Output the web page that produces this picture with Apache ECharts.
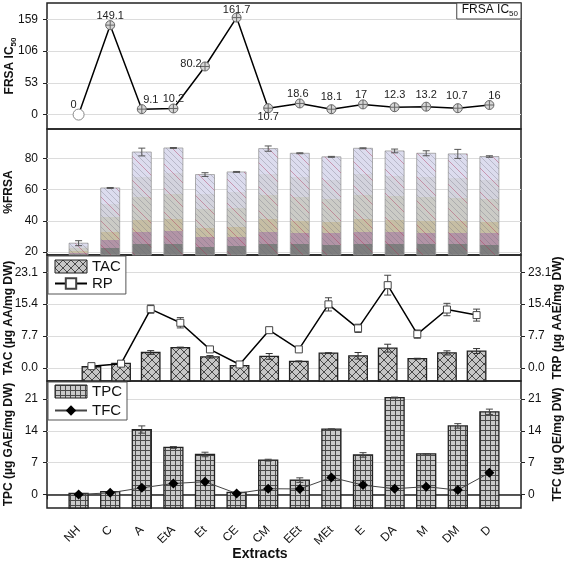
<!DOCTYPE html>
<html><head><meta charset="utf-8">
<script src="https://cdn.jsdelivr.net/npm/echarts@6/dist/echarts.min.js"></script>
<style>html,body{margin:0;padding:0;background:#fff}#c{width:567px;height:562px}</style>
</head><body><div id="c"></div>
<script>
// ---------------- data ----------------
const categories = ['NH','C','A','EtA','Et','CE','CM','EEt','MEt','E','DA','M','DM','D'];
const ic50Values = [0,149.1,9.1,10.2,80.2,161.7,10.7,18.6,9.0,17,12.3,13.2,10.7,16];
const ic50Labels = ['0','149.1','9.1','10.2','80.2','161.7','10.7','18.6','18.1','17','12.3','13.2','10.7','16'];
const frsaValues = [25.6,61.1,84.2,86.8,69.7,71.4,86.4,83.4,81.1,86.6,84.9,83.4,83.0,81.3];
const frsaErrors = [1.6,0.3,2.5,0.3,1.2,0.3,1.7,0.3,0.3,0.3,1.2,1.6,2.9,0.5];
const tacValues = [0.25,1.05,3.7,4.9,2.65,0.5,2.75,1.55,3.55,2.9,4.75,2.2,3.6,4.05];
const tacErrors = [0.1,0.1,0.45,0.1,0.3,0.1,0.7,0.1,0.1,0.8,0.95,0.1,0.5,0.6];
const rpValues = [0.4,1.0,14.2,10.9,4.45,0.8,9.1,4.45,15.35,9.55,20.0,8.15,14.1,12.75];
const rpErrors = [0.3,0.4,1.0,1.25,0.4,0.3,0.5,0.2,1.6,1.0,2.4,1.0,1.5,1.45];
const tpcValues = [0.2,0.6,14.3,10.35,8.8,0.45,7.55,3.15,14.4,8.7,21.35,8.95,15.1,18.2];
const tpcErrors = [0.05,0.05,0.8,0.2,0.5,0.05,0.2,0.5,0.05,0.5,0.1,0.05,0.5,0.6];
const tfcValues = [0.0,0.35,1.45,2.4,2.8,0.2,1.25,1.2,3.75,2.05,1.25,1.7,0.95,4.75];
const ic50Ticks = [0,53,106,159];
const frsaTicks = [20,40,60,80];
const tacTicks = [0,7.7,15.4,23.1];
const tpcTicks = [0,7,14,21];

// ---------------- styles ----------------
const FONT = '"Liberation Sans", Arial, Helvetica, sans-serif';
const axisCats = [''].concat(categories, [' ']);

function makePattern(size, bg, draw) {
  const c = document.createElement('canvas');
  c.width = size; c.height = size;
  const g = c.getContext('2d');
  if (bg) { g.fillStyle = bg; g.fillRect(0, 0, size, size); }
  draw(g, size);
  return { image: c, repeat: 'repeat' };
}
const crossPat = makePattern(8, '#c6c6c6', (g, s) => {
  g.strokeStyle = '#3a3a3a'; g.lineWidth = 0.9; g.beginPath();
  for (let k = -1; k <= 1; k++) {
    g.moveTo(k * s, 0); g.lineTo(k * s + s, s);
    g.moveTo(k * s, s); g.lineTo(k * s + s, 0);
  }
  g.stroke();
});
const gridPat = makePattern(5, '#c9c9c9', (g, s) => {
  g.fillStyle = '#4a4a4a'; g.fillRect(0, 0, s, 1); g.fillRect(0, 0, 1, s);
});
const hatchPat = makePattern(24, null, (g, s) => {
  g.lineWidth = 0.7;
  [0, 6, 12, 18].forEach((o, j) => {
    g.strokeStyle = j === 0 ? 'rgba(170,50,90,0.6)' : 'rgba(105,105,120,0.45)';
    g.beginPath();
    for (let k = -1; k <= 1; k++) { g.moveTo(o + k * s, 0); g.lineTo(o + k * s + s, s); }
    g.stroke();
  });
});
const frsaGradient = {
  type: 'linear', x: 0, y: 1, x2: 0, y2: 0,
  colorStops: [
    {offset: 0, color: '#7e7e7e'}, {offset: 0.107, color: '#7e7e7e'},
    {offset: 0.107, color: '#b294a6'}, {offset: 0.222, color: '#b294a6'},
    {offset: 0.222, color: '#c6bea4'}, {offset: 0.34, color: '#c6bea4'},
    {offset: 0.34, color: '#cbcbc6'}, {offset: 0.566, color: '#cbcbc6'},
    {offset: 0.566, color: '#d3d3dd'}, {offset: 0.76, color: '#d3d3dd'},
    {offset: 0.76, color: '#dcdcee'}, {offset: 1, color: '#dcdcee'}
  ]
};
const crossCircle = 'path://M10,0A10,10,0,1,1,10,20A10,10,0,1,1,10,0ZM10,0L10,20M0,10L20,10';

function barRender(width, fill, stroke, strokeW, overlay) {
  return function (params, api) {
    const x = api.value(0), v = api.value(1);
    const top = api.coord([x, v]);
    const cs = params.coordSys;
    const bottom = cs.y + cs.height;
    const shape = {x: top[0] - width / 2, y: top[1], width: width, height: bottom - top[1]};
    const children = [{type: 'rect', shape: shape, style: {fill: fill, stroke: stroke, lineWidth: strokeW}}];
    if (overlay) children.push({type: 'rect', shape: shape, style: {fill: overlay, stroke: null}});
    return {type: 'group', children: children};
  };
}
function errRender(color, capW) {
  return function (params, api) {
    const x = api.value(0), v = api.value(1), e = api.value(2);
    const hi = api.coord([x, v + e]), lo = api.coord([x, v - e]);
    const st = {stroke: color, lineWidth: 1};
    return {type: 'group', children: [
      {type: 'line', shape: {x1: hi[0], y1: hi[1], x2: lo[0], y2: lo[1]}, style: st},
      {type: 'line', shape: {x1: hi[0] - capW, y1: hi[1], x2: hi[0] + capW, y2: hi[1]}, style: st},
      {type: 'line', shape: {x1: lo[0] - capW, y1: lo[1], x2: lo[0] + capW, y2: lo[1]}, style: st}
    ]};
  };
}
function pairs(vals, errs) {
  return categories.map((c, i) => errs ? [c, vals[i], errs[i]] : [c, vals[i]]);
}

const gridBase = {left: 47, right: 46, show: true, borderColor: '#222', borderWidth: 1.5,
  backgroundColor: 'transparent', containLabel: false, outerBoundsMode: 'none'};
const grids = [
  Object.assign({top: 3, height: 126}, gridBase),
  Object.assign({top: 129, height: 126}, gridBase),
  Object.assign({top: 255, height: 126}, gridBase),
  Object.assign({top: 381, height: 127}, gridBase)
];

function xAx(gi, bottomAxis, onBand) {
  return {
    type: 'category', gridIndex: gi, data: axisCats, boundaryGap: onBand,
    axisLine: {show: bottomAxis, lineStyle: {color: '#222', width: 1.5}},
    axisTick: {show: bottomAxis, length: 5, inside: false, interval: 0, alignWithLabel: true, lineStyle: {color: '#222', width: 1}},
    axisLabel: {show: bottomAxis, rotate: 45, interval: 0, margin: 20, fontSize: 12, color: '#111', fontFamily: FONT},
    splitLine: {show: false},
    name: bottomAxis ? 'Extracts' : '', nameLocation: 'middle', nameGap: 39, nameMoveOverlap: false,
    nameTextStyle: {fontSize: 14, fontWeight: 'bold', color: '#111', fontFamily: FONT, padding: [0, 48, 0, 0]}
  };
}
function yAx(gi, min, max, ticks, pos, name, nameGap, fmt, rich) {
  const left = pos === 'left';
  return {
    type: 'value', gridIndex: gi, position: pos, min: min, max: max,
    axisLine: {show: false},
    axisTick: {show: true, length: 4, inside: false, customValues: ticks, lineStyle: {color: '#222'}},
    axisLabel: {show: true, customValues: ticks, fontSize: 12, color: '#111', fontFamily: FONT, margin: left ? 9 : 7,
      formatter: fmt || (v => String(v))},
    splitLine: {show: left, lineStyle: {color: '#dcdcdc', width: 1}},
    name: name, nameLocation: 'middle', nameGap: nameGap, nameRotate: 90, nameMoveOverlap: false,
    nameTextStyle: {fontSize: 12, fontWeight: 'bold', color: '#111', fontFamily: FONT, rich: rich}
  };
}
const subRich = {
  a: {fontSize: 12, fontWeight: 'bold', color: '#111', fontFamily: FONT},
  s: {fontSize: 8, fontWeight: 'bold', color: '#111', fontFamily: FONT, padding: [9, 0, 0, 0]}
};
const ic50LabelOffsets = [[-5,-10],[0,-9],[9,-9],[0,-10],[-14,-3],[0,-8],[0,9],[-2,-9],[0,-12],[-2,-9],[0,-12],[0,-12],[-1,-12],[5,-9]];
const fmt1 = v => v.toFixed(1);

const option = {
  animation: false,
  backgroundColor: '#fff',
  textStyle: {fontFamily: FONT},
  grid: grids,
  xAxis: [xAx(0, false, false), xAx(1, false, false), xAx(2, false, true), xAx(3, true, false)],
  yAxis: [
    yAx(0, -24, 186, ic50Ticks, 'left', '{a|FRSA IC}{s|50}', 29, null, subRich),
    yAx(1, 18, 99, frsaTicks, 'left', '%FRSA', 32),
    yAx(2, -3.2, 27.3, tacTicks, 'left', 'TAC (µg AA/mg DW)', 32, fmt1),
    yAx(2, -3.2, 27.3, tacTicks, 'right', 'TRP (µg AAE/mg DW)', 31, fmt1),
    yAx(3, -3, 25, tpcTicks, 'left', 'TPC (µg GAE/mg DW)', 32),
    yAx(3, -3, 25, tpcTicks, 'right', 'TFC (µg QE/mg DW)', 31)
  ],
  legend: [
    {data: ['FRSA IC50'], right: 46, top: 3, orient: 'vertical', icon: 'none', itemWidth: 0, itemHeight: 0,
      padding: [1, 3, 1, 0], borderColor: '#444', borderWidth: 1, backgroundColor: '#fff',
      formatter: () => '{a|FRSA IC}{s|50}',
      textStyle: {rich: {
        a: {fontSize: 12, color: '#111', fontFamily: FONT},
        s: {fontSize: 8, color: '#111', fontFamily: FONT, padding: [8, 0, 0, 0]}}}},
    {data: [{name: 'TAC', icon: 'rect', itemStyle: {color: crossPat, borderColor: '#222', borderWidth: 1}}, {name: 'RP'}],
      left: 48, top: 256, orient: 'vertical', itemWidth: 32, itemHeight: 13, itemGap: 2,
      padding: [3, 5, 3, 6], borderColor: '#555', borderWidth: 1, backgroundColor: '#fff',
      textStyle: {fontSize: 15, color: '#111', fontFamily: FONT}},
    {data: [{name: 'TPC', icon: 'rect', itemStyle: {color: gridPat, borderColor: '#222', borderWidth: 1}}, {name: 'TFC'}],
      left: 48, top: 382, orient: 'vertical', itemWidth: 32, itemHeight: 13, itemGap: 4,
      padding: [2, 5, 2, 6], borderColor: '#555', borderWidth: 1, backgroundColor: '#fff',
      textStyle: {fontSize: 15, color: '#111', fontFamily: FONT}}
  ],
  series: [
    {
      name: 'FRSA IC50', type: 'line', xAxisIndex: 0, yAxisIndex: 0, z: 4,
      data: categories.map((c, i) => i === 0
        ? {value: [c, ic50Values[i]], symbol: 'circle', symbolSize: 11, itemStyle: {color: '#fff', borderColor: '#888', borderWidth: 1}}
        : {value: [c, ic50Values[i]]}),
      symbol: crossCircle, symbolSize: 9,
      itemStyle: {color: '#d6d6d6', borderColor: '#666', borderWidth: 1},
      lineStyle: {color: '#000', width: 1.5},
      label: {show: true, position: 'inside', fontSize: 11, color: '#222', fontFamily: FONT,
        formatter: p => ic50Labels[p.dataIndex]},
      labelLayout: p => ({dx: ic50LabelOffsets[p.dataIndex][0], dy: ic50LabelOffsets[p.dataIndex][1]})
    },
    {
      name: '%FRSA', type: 'custom', xAxisIndex: 1, yAxisIndex: 1, z: 2,
      data: pairs(frsaValues), renderItem: barRender(19, frsaGradient, '#9a9a9a', 0.8, hatchPat)
    },
    {
      name: '%FRSA err', type: 'custom', xAxisIndex: 1, yAxisIndex: 1, z: 3, silent: true,
      data: pairs(frsaValues, frsaErrors), renderItem: errRender('#555', 3.5)
    },
    {
      name: 'TAC', type: 'custom', xAxisIndex: 2, yAxisIndex: 2, z: 2,
      itemStyle: {color: crossPat, borderColor: '#222', borderWidth: 1},
      data: pairs(tacValues), renderItem: barRender(18.5, crossPat, '#222', 1.3)
    },
    {
      name: 'TAC err', type: 'custom', xAxisIndex: 2, yAxisIndex: 2, z: 3, silent: true,
      data: pairs(tacValues, tacErrors), renderItem: errRender('#333', 3.5)
    },
    {
      name: 'RP err', type: 'custom', xAxisIndex: 2, yAxisIndex: 3, z: 3, silent: true,
      data: pairs(rpValues, rpErrors), renderItem: errRender('#444', 3.5)
    },
    {
      name: 'RP', type: 'line', xAxisIndex: 2, yAxisIndex: 3, z: 4,
      data: pairs(rpValues), symbol: 'rect', symbolSize: 7,
      itemStyle: {color: '#fff', borderColor: '#444', borderWidth: 1},
      lineStyle: {color: '#000', width: 1.5}
    },
    {
      name: 'TPC', type: 'custom', xAxisIndex: 3, yAxisIndex: 4, z: 2,
      itemStyle: {color: gridPat, borderColor: '#222', borderWidth: 1},
      data: pairs(tpcValues), renderItem: barRender(19, gridPat, '#222', 1.3)
    },
    {
      name: 'TPC err', type: 'custom', xAxisIndex: 3, yAxisIndex: 4, z: 3, silent: true,
      data: pairs(tpcValues, tpcErrors), renderItem: errRender('#444', 3.5)
    },
    {
      name: 'TFC', type: 'line', xAxisIndex: 3, yAxisIndex: 5, z: 4,
      data: pairs(tfcValues), symbol: 'diamond', symbolSize: 10,
      itemStyle: {color: '#000', borderColor: '#000', borderWidth: 0},
      lineStyle: {color: '#444', width: 1}
    }
  ]
};
const chart = echarts.init(document.getElementById('c'), null, {renderer: 'canvas', width: 567, height: 562});
chart.setOption(option);
</script>
</body></html>
